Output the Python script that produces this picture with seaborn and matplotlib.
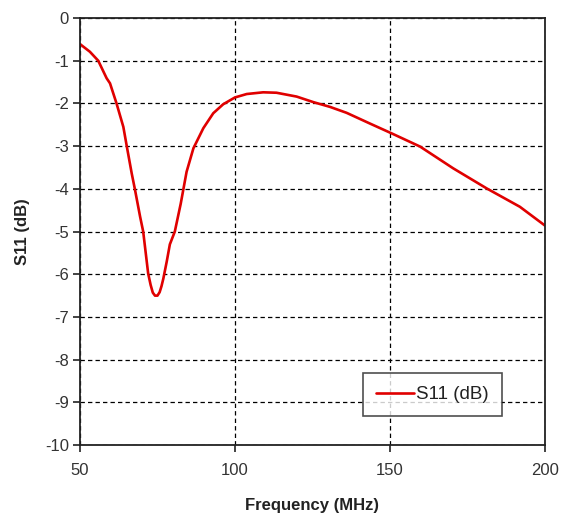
import pandas as pd
import matplotlib.pyplot as plt
import seaborn as sns

# --------------------------------------------------
# Data (frequency in MHz, S11 in dB)
# --------------------------------------------------
freq = [50, 53.2, 55.9, 58.6, 59.7, 61.8, 64.0, 65.1, 66.7, 67.7, 69.4, 70.4,
        72.0, 72.8, 73.5, 74.2, 75.0, 75.7, 76.3, 76.9, 78.0, 79.0, 80.6, 82.5,
        84.4, 86.6, 89.8, 93.0, 96.2, 100, 103.8, 109.1, 113.4, 119.9, 125.3,
        130.6, 136.0, 143.5, 150.5, 159.7, 170.4, 181.2, 191.9, 200]
s11 = [-0.61, -0.79, -1.0, -1.41, -1.53, -2.0, -2.55, -3.0, -3.64, -4.0, -4.65, -5.0,
       -5.98, -6.25, -6.43, -6.5, -6.5, -6.42, -6.28, -6.1, -5.7, -5.3, -5.0, -4.35,
       -3.6, -3.05, -2.58, -2.23, -2.02, -1.86, -1.78, -1.74, -1.75, -1.84, -1.97,
       -2.08, -2.22, -2.47, -2.70, -3.01, -3.52, -3.99, -4.42, -4.86]

df = pd.DataFrame({'Frequency (MHz)': freq, 'S11 (dB)': s11})

# --------------------------------------------------
# Plot
# --------------------------------------------------
sns.set_style('white')
plt.rcParams['font.family'] = ['Liberation Sans', 'DejaVu Sans']
plt.rcParams['axes.unicode_minus'] = False
plt.rcParams['xtick.bottom'] = True
plt.rcParams['ytick.left'] = True
plt.rcParams['xtick.major.size'] = 5
plt.rcParams['ytick.major.size'] = 5

fig = plt.figure(figsize=(5.63, 5.14), dpi=100)
ax = fig.add_axes([0.142, 0.134, 0.826, 0.831])

sns.lineplot(data=df, x='Frequency (MHz)', y='S11 (dB)', ax=ax,
             color='#e00000', linewidth=1.9, label='S11 (dB)')

ax.set_xlim(50, 200)
ax.set_ylim(-10, 0)
ax.set_xticks([50, 100, 150, 200])
ax.set_yticks(range(-10, 1))

ax.grid(True, color='black', linestyle=(0, (3.5, 2.5)), linewidth=0.9)
for side in ['top', 'right', 'bottom', 'left']:
    ax.spines[side].set_visible(True)
    ax.spines[side].set_color('#222222')
    ax.spines[side].set_linewidth(1.3)

ax.tick_params(axis='both', direction='out', length=5, width=1.2,
               color='#222222', labelsize=12, labelcolor='#333333')
ax.tick_params(axis='x', pad=8)
ax.tick_params(axis='y', pad=3)

ax.set_xlabel('Frequency (MHz)', fontsize=12, fontweight='bold', color='#222222', labelpad=14)
ax.set_ylabel('S11 (dB)', fontsize=12, fontweight='bold', color='#222222', labelpad=11)

leg = ax.legend(loc='center', bbox_to_anchor=(0.758, 0.118), fontsize=13.5,
                frameon=True, fancybox=False, edgecolor='#222222',
                handlelength=2.0, handletextpad=0.1, borderpad=0.7, borderaxespad=0)
leg.get_frame().set_linewidth(1.2)
for t in leg.get_texts():
    t.set_color('#222222')

plt.savefig('out.png', dpi=100)
